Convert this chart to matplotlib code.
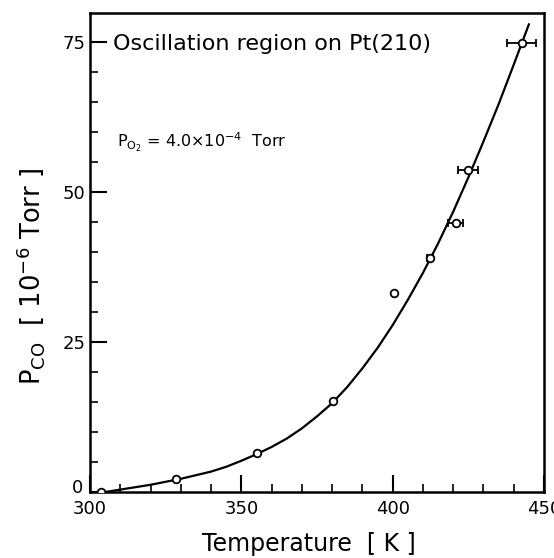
import numpy as np
import matplotlib
matplotlib.use("Agg")
import matplotlib.pyplot as plt
from matplotlib.ticker import MultipleLocator, FuncFormatter

# measured points
temp_K = [303.5, 328.4, 355.2, 380.3, 400.4, 412.3, 420.9, 424.9, 442.7]
p_co = [0.0, 2.2, 6.5, 15.2, 33.2, 39.0, 44.8, 53.7, 74.8]
temp_err = [0, 0, 0, 0, 0, 1.0, 2.5, 3.3, 4.8]

# fitted curve
curve_T = [305, 310, 315, 320, 325, 330, 335, 340, 345, 350, 355, 360, 365, 370, 375,
           380, 385, 390, 395, 400, 405, 410, 415, 420, 425, 430, 435, 440, 445]
curve_P = [0.0, 0.4, 0.8, 1.2, 1.7, 2.2, 2.8, 3.4, 4.2, 5.2, 6.3, 7.5, 8.9, 10.6, 12.6,
           14.8, 17.5, 20.6, 24.0, 27.8, 32.0, 36.5, 41.4, 46.7, 52.4, 58.4, 64.6, 71.2, 77.9]

plt.rcParams["font.family"] = ["DejaVu Sans"]
plt.rcParams["mathtext.fontset"] = "dejavusans"

fig = plt.figure(figsize=(5.54, 5.58), dpi=100)
ax = fig.add_axes([90 / 554, 1 - 492 / 558, 454 / 554, 479 / 558])

ax.plot(curve_T, curve_P, color="black", lw=1.6)
ax.errorbar(temp_K, p_co, xerr=temp_err, fmt="o", ms=5.5, mfc="white", mec="black",
            mew=1.3, ecolor="black", elinewidth=1.3, capsize=3, capthick=1.3, zorder=3)

ax.set_xlim(300, 450)
ax.set_ylim(0, 79.8)
ax.xaxis.set_major_locator(MultipleLocator(50))
ax.xaxis.set_minor_locator(MultipleLocator(10))
ax.yaxis.set_major_locator(MultipleLocator(25))
ax.yaxis.set_minor_locator(MultipleLocator(5))
# the "0" is drawn separately, a little above the corner
ax.yaxis.set_major_formatter(FuncFormatter(lambda v, pos: "" if v == 0 else f"{v:g}"))
ax.annotate("0", xy=(0, 0), xycoords=("axes fraction", "data"), xytext=(-5, 3),
            textcoords="offset points", ha="right", va="center", fontsize=13)
ax.tick_params(which="both", direction="in", top=False, right=False, labelsize=13)
ax.tick_params(which="major", length=12, width=1.5)
ax.tick_params(which="minor", length=6, width=1.2)
ax.tick_params(axis="x", pad=6)
for s in ax.spines.values():
    s.set_linewidth(1.8)

ax.set_xlabel("Temperature  [ K ]", fontsize=17)
ax.xaxis.set_label_coords(0.483, -0.083)
ax.set_ylabel(r"$\mathregular{P_{CO}}$  [ $\mathregular{10^{-6}}$ Torr ]", fontsize=18.5)
ax.yaxis.set_label_coords(-0.095, 0.45)

ax.text(0.05, 0.935, "Oscillation region on Pt(210)", transform=ax.transAxes,
        fontsize=16, ha="left", va="center")
ax.text(0.06, 0.73, r"$\mathregular{P_{O_2}}$ = 4.0$\times$$\mathregular{10^{-4}}$  Torr",
        transform=ax.transAxes, fontsize=11.5, ha="left", va="center")

fig.savefig("out.png", dpi=100)
